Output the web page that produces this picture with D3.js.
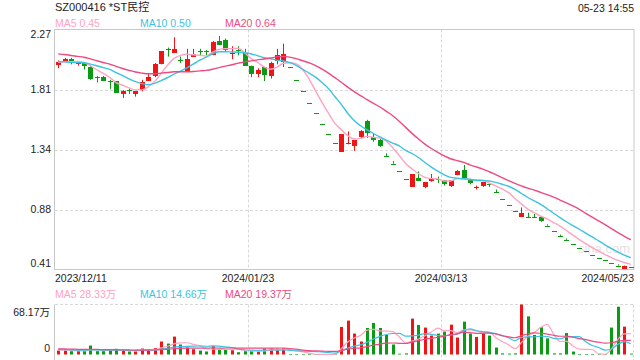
<!DOCTYPE html>
<html>
<head>
<meta charset="utf-8">
<script src="https://cdn.jsdelivr.net/npm/d3@7"></script>
<style>
body { margin: 0; background: #fff; }
svg text { font-family: Arial, "Liberation Sans", "Noto Sans CJK SC", sans-serif; }
</style>
</head>
<body>
<div id="chart-area"></div>
<script>
// daily candles, 2023/12/11 .. 2024/05/23 (yuan)
let open = [
	2.00,2.02,2.04,2.00,2.01,1.98,1.90,1.90,1.87,1.87,
	1.77,1.80,1.77,1.80,1.87,1.91,2.00,2.12,2.09,2.03,
	1.95,2.06,2.10,2.10,2.07,2.18,2.19,2.08,2.11,2.09,
	1.99,1.93,1.98,1.91,2.02,2.02,1.98,1.88,1.79,1.70,
	1.62,1.54,1.46,1.39,1.32,1.38,1.36,1.43,1.56,1.44,
	1.41,1.29,1.23,1.17,1.11,1.05,1.12,1.05,1.10,1.11,
	1.10,1.05,1.14,1.18,1.11,1.04,1.06,1.07,1.01,0.96,
	0.91,0.86,0.82,0.82,0.82,0.82,0.75,0.71,0.67,0.64,
	0.61,0.58,0.55,0.52,0.50,0.48,0.46,0.44,0.42,0.43];
let high = [
	2.03,2.05,2.05,2.02,2.01,1.99,1.91,1.91,1.88,1.87,
	1.80,1.81,1.79,1.88,1.93,2.01,2.10,2.13,2.21,2.06,
	2.12,2.12,2.12,2.11,2.18,2.22,2.20,2.14,2.14,2.12,
	1.99,1.97,1.98,2.02,2.12,2.16,1.98,1.88,1.79,1.70,
	1.62,1.54,1.46,1.39,1.46,1.48,1.41,1.49,1.57,1.46,
	1.43,1.31,1.25,1.17,1.11,1.15,1.17,1.09,1.15,1.13,
	1.10,1.10,1.18,1.22,1.11,1.06,1.09,1.08,1.03,0.96,
	0.91,0.86,0.89,0.85,0.84,0.82,0.76,0.71,0.68,0.65,
	0.61,0.58,0.55,0.52,0.50,0.48,0.46,0.45,0.44,0.43];
let low = [
	1.97,2.02,2.00,1.99,1.96,1.88,1.86,1.87,1.81,1.78,
	1.74,1.77,1.75,1.79,1.87,1.90,2.00,2.06,2.09,2.01,
	1.95,2.06,2.07,2.07,2.07,2.15,2.10,2.04,2.07,1.99,
	1.90,1.90,1.87,1.89,2.00,1.98,1.98,1.88,1.79,1.70,
	1.62,1.54,1.46,1.39,1.32,1.38,1.33,1.43,1.43,1.40,
	1.36,1.29,1.23,1.17,1.11,1.05,1.10,1.04,1.09,1.08,
	1.06,1.05,1.14,1.11,1.07,1.03,1.05,1.05,1.01,0.96,
	0.91,0.86,0.82,0.81,0.81,0.78,0.75,0.71,0.67,0.64,
	0.61,0.58,0.55,0.52,0.50,0.48,0.46,0.44,0.42,0.43];
let close = [
	2.02,2.04,2.01,2.01,1.99,1.89,1.89,1.87,1.86,1.78,
	1.79,1.79,1.79,1.86,1.90,2.00,2.10,2.11,2.12,2.02,
	2.04,2.08,2.09,2.09,2.17,2.15,2.11,2.09,2.10,1.99,
	1.93,1.96,1.92,2.01,2.07,2.08,1.98,1.88,1.79,1.70,
	1.62,1.54,1.46,1.39,1.46,1.39,1.41,1.48,1.47,1.42,
	1.36,1.29,1.23,1.17,1.11,1.15,1.10,1.09,1.12,1.10,
	1.07,1.10,1.17,1.12,1.08,1.05,1.09,1.06,1.01,0.96,
	0.91,0.86,0.85,0.81,0.81,0.79,0.75,0.71,0.67,0.64,
	0.61,0.58,0.55,0.52,0.50,0.48,0.46,0.44,0.44,0.43];
// volume in 万 shares
let volume = [
	5.4,5.4,4.5,4.5,5.4,12.2,4.5,4.5,5.4,7.7,
	5.4,4.1,4.1,8.1,6.8,8.6,17.7,14.9,24.4,13.6,
	9.5,7.2,5.4,4.1,11.3,7.2,6.8,5.8,3.1,4.5,
	4.5,4.1,8.1,8.1,8.1,8.6,0.4,0.3,0.3,0.25,
	0.3,0.35,0.3,0.4,37.6,46.2,28.5,17.7,36.2,43.0,
	36.2,26.7,13.6,1.0,1.5,48.9,40.3,36.7,25.8,28.5,
	31.2,40.7,23.1,44.8,28.5,24.0,28.5,25.8,9.5,1.5,
	1.2,1.5,68.17,52.0,26.7,37.0,22.0,1.5,1.5,29.23,
	4.0,0.3,0.25,0.3,0.1,0.6,36.7,65.2,38.0,1.15];

// days before 2023/12/11 (off screen), only used to start the moving averages
let preClose = [2.15,2.16,2.14,2.13,2.15,2.17,2.14,2.12,2.13,2.11,2.08,2.05,2.03,2.00,1.99,2.02,2.01,2.00,2.03];
let preVolume = [9.1,8.4,9.6,8.8,7.9,9.3,8.6,8.0,9.0,8.2,7.4,6.9,7.8,6.6,7.2,6.8,7.5,6.4,6.1];

let dateLabels = ["2023/12/11", "2024/01/23", "2024/03/13", "2024/05/23"];
let dateIndex = [0, 30, 60, 90];
let priceLabels = ["2.27", "1.81", "1.34", "0.88", "0.41"];
let maDays = [5, 10, 20];

let maColors = ["#ffa3c3", "#3cc3e2", "#ee4a80"];
let upColor = "#f01414", downColor = "#0a9a14";

let svg = d3.select("#chart-area").append("svg")
	.attr("width", 640)
	.attr("height", 360);

// scales
let x = d3.scaleLinear().domain([0, close.length]).range([55, 634]);
let y = d3.scaleLinear().domain([0.41, 2.27]).range([269.5, 29.5]);
let yVol = d3.scaleLinear().domain([0, d3.max(volume)]).range([354.5, 304.5]);

function isUp(i) {
	if (close[i] !== open[i]) return close[i] > open[i];
	let prev = i > 0 ? close[i - 1] : preClose[preClose.length - 1];
	return close[i] >= prev;
}

function movingAvg(pre, vals, n) {
	let all = pre.concat(vals);
	return vals.map((v, i) => d3.mean(all.slice(i + pre.length - n + 1, i + pre.length + 1)));
}

let cx = i => Math.round(x(i + 0.5)) + 0.5;

// header
svg.append("text").attr("x", 55).attr("y", 11)
	.attr("font-size", 11).attr("fill", "#222")
	.text("SZ000416 *ST民控");
svg.append("text").attr("x", 634).attr("y", 11.5)
	.attr("font-size", 10.5).attr("fill", "#222").attr("text-anchor", "end")
	.text("05-23 14:55");

let priceMA = maDays.map(n => movingAvg(preClose, close, n));
let volMA = maDays.map(n => movingAvg(preVolume, volume, n));

maDays.forEach((n, k) => {
	svg.append("text").attr("x", 55 + k * 85).attr("y", 27.3)
		.attr("font-size", 10.5).attr("fill", maColors[k])
		.text("MA" + n + " " + priceMA[k][close.length - 1].toFixed(2));
	svg.append("text").attr("x", 55 + k * 85).attr("y", 297.5)
		.attr("font-size", 10.5).attr("fill", maColors[k])
		.text("MA" + n + " " + volMA[k][volume.length - 1].toFixed(2) + "万");
});

// price panel frame + grid
let tickVals = priceLabels.map((d, k) => 2.27 - k * (2.27 - 0.41) / 4);
svg.selectAll(".hgrid").data(tickVals.slice(1, 4)).enter().append("line")
	.attr("x1", 55).attr("x2", 634)
	.attr("y1", d => Math.round(y(d)) + 0.5).attr("y2", d => Math.round(y(d)) + 0.5)
	.attr("stroke", "#d8d8d8").attr("stroke-dasharray", "3,2");

dateIndex.slice(1, 3).forEach(i => {
	let xx = Math.round(x(i)) + 0.5;
	svg.append("line").attr("x1", xx).attr("x2", xx).attr("y1", 29.5).attr("y2", 269.5)
		.attr("stroke", "#d8d8d8").attr("stroke-dasharray", "3,2");
	svg.append("line").attr("x1", xx).attr("x2", xx).attr("y1", 304.5).attr("y2", 360)
		.attr("stroke", "#d8d8d8").attr("stroke-dasharray", "3,2");
});

svg.append("rect").attr("x", 54.5).attr("y", 29.5).attr("width", 579.5).attr("height", 240)
	.attr("fill", "none").attr("stroke", "#c8c8c8");

svg.selectAll(".plabel").data(priceLabels).enter().append("text")
	.attr("x", 51)
	.attr("y", (d, k) => y(tickVals[k]) + (k === 0 ? 8 : k === 4 ? -2.8 : 3.6))
	.attr("text-anchor", "end").attr("font-size", 10.5).attr("fill", "#222")
	.text(d => d);

svg.selectAll(".dlabel").data(dateLabels).enter().append("text")
	.attr("x", (d, k) => x(dateIndex[k]))
	.attr("y", 281.5)
	.attr("text-anchor", (d, k) => k === 0 ? "start" : k === dateLabels.length - 1 ? "end" : "middle")
	.attr("font-size", 10.5).attr("fill", "#222")
	.text(d => d);

// watermark
svg.append("text").attr("x", 604).attr("y", 253).attr("text-anchor", "middle")
	.attr("font-size", 13).attr("fill", "#e2e2e2").text("sina.com");

// candles
let idx = d3.range(close.length);
let candles = svg.append("g").selectAll("g").data(idx).enter().append("g")
	.attr("fill", i => isUp(i) ? upColor : downColor)
	.attr("stroke", i => isUp(i) ? upColor : downColor);

candles.append("line")
	.attr("x1", cx).attr("x2", cx)
	.attr("y1", i => y(high[i])).attr("y2", i => y(low[i]));

candles.append("rect")
	.attr("stroke", "none")
	.attr("x", i => cx(i) - 2.5)
	.attr("width", 5)
	.attr("y", i => Math.round(y(Math.max(open[i], close[i]))))
	.attr("height", i => Math.max(1, Math.round(Math.abs(y(open[i]) - y(close[i])))));

// MA lines
maDays.forEach((n, k) => {
	svg.append("path")
		.attr("d", d3.line().x((d, i) => x(i + 0.5)).y(d => y(d)).curve(d3.curveMonotoneX)(priceMA[k]))
		.attr("fill", "none").attr("stroke", maColors[k]).attr("stroke-width", 1.4);
});

// volume panel
svg.append("line").attr("x1", 54.5).attr("x2", 54.5).attr("y1", 304.5).attr("y2", 360).attr("stroke", "#c8c8c8");
svg.append("line").attr("x1", 55).attr("x2", 634).attr("y1", 304.5).attr("y2", 304.5)
	.attr("stroke", "#d8d8d8").attr("stroke-dasharray", "3,2");
svg.append("line").attr("x1", 633.5).attr("x2", 633.5).attr("y1", 304.5).attr("y2", 360)
	.attr("stroke", "#d8d8d8").attr("stroke-dasharray", "3,2");

svg.append("text").attr("x", 50).attr("y", yVol.range()[1] + 11)
	.attr("text-anchor", "end").attr("font-size", 10.5).attr("fill", "#222")
	.text(d3.max(volume).toFixed(2) + "万");
svg.append("text").attr("x", 50).attr("y", yVol(0) - 3)
	.attr("text-anchor", "end").attr("font-size", 10.5).attr("fill", "#222")
	.text("0");

svg.append("g").selectAll("rect").data(idx).enter().append("rect")
	.attr("x", i => cx(i) - 1.5)
	.attr("width", 3)
	.attr("y", i => yVol(volume[i]))
	.attr("height", i => Math.max(0.6, yVol(0) - yVol(volume[i])))
	.attr("fill", i => isUp(i) ? upColor : downColor);

maDays.forEach((n, k) => {
	svg.append("path")
		.attr("d", d3.line().x((d, i) => x(i + 0.5)).y(d => yVol(d)).curve(d3.curveMonotoneX)(volMA[k]))
		.attr("fill", "none").attr("stroke", maColors[k]).attr("stroke-width", 1.2);
});
</script>
</body>
</html>
